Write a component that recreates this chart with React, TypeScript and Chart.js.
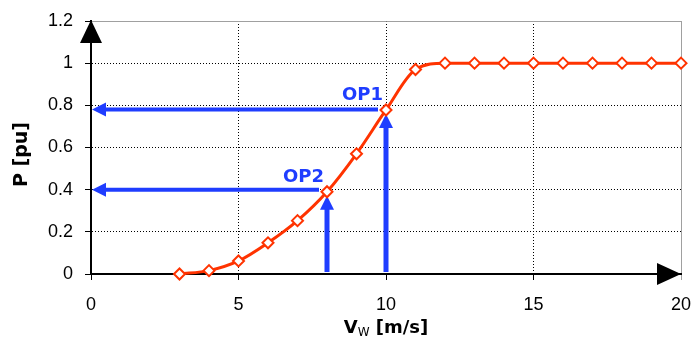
import { useEffect, useRef } from 'react';
import { Chart, registerables } from 'chart.js';

Chart.register(...registerables);

const windSpeeds = [3, 4, 5, 6, 7, 8, 9, 10, 11, 12, 13, 14, 15, 16, 17, 18, 19, 20];
const powerPu = [0, 0.016, 0.062, 0.148, 0.253, 0.39, 0.57, 0.778, 0.97, 1, 1, 1, 1, 1, 1, 1, 1, 1];
const xTickLabels = ['0', '5', '10', '15', '20'];
const yTickLabels = ['0', '0.2', '0.4', '0.6', '0.8', '1', '1.2'];
const opNames = ['OP1', 'OP2'];
const opWind = [10, 8];
const opPower = [0.78, 0.4];
const yTitle = 'P [pu]';
const xTitleMain = 'V';
const xTitleSub = 'W';
const xTitleUnit = ' [m/s]';

const RED = '#ff3300';
const BLUE = '#1f3dff';

const overlay = {
  id: 'overlay',
  beforeDatasetsDraw(chart: any) {
    const { ctx, scales } = chart;
    const xs = scales.x;
    const ys = scales.y;
    ctx.save();
    ctx.strokeStyle = BLUE;
    ctx.fillStyle = BLUE;
    opWind.forEach((w, i) => {
      const idx = windSpeeds.indexOf(w);
      const px = xs.getPixelForValue(w);
      const py = ys.getPixelForValue(powerPu[idx]);
      const hy = ys.getPixelForValue(opPower[i]);
      const x0 = xs.getPixelForValue(0) + 1;
      // horizontal arrow
      ctx.lineWidth = 4;
      ctx.beginPath();
      ctx.moveTo(px - 8, hy);
      ctx.lineTo(x0 + 12, hy);
      ctx.stroke();
      ctx.beginPath();
      ctx.moveTo(x0, hy);
      ctx.lineTo(x0 + 14, hy - 7);
      ctx.lineTo(x0 + 14, hy + 7);
      ctx.closePath();
      ctx.fill();
      // vertical arrow
      ctx.lineWidth = 5;
      const y0 = ys.getPixelForValue(0) - 2;
      const tip = py + 4;
      ctx.beginPath();
      ctx.moveTo(px, y0);
      ctx.lineTo(px, tip + 12);
      ctx.stroke();
      ctx.beginPath();
      ctx.moveTo(px, tip);
      ctx.lineTo(px - 7, tip + 14);
      ctx.lineTo(px + 7, tip + 14);
      ctx.closePath();
      ctx.fill();
    });
    ctx.restore();
  },
  afterDraw(chart: any) {
    const { ctx, scales } = chart;
    const xs = scales.x;
    const ys = scales.y;
    ctx.save();
    // OP labels
    ctx.fillStyle = BLUE;
    ctx.font = 'bold 18px "DejaVu Sans"';
    ctx.textAlign = 'right';
    ctx.textBaseline = 'alphabetic';
    opWind.forEach((w, i) => {
      const idx = windSpeeds.indexOf(w);
      const px = xs.getPixelForValue(w);
      const py = ys.getPixelForValue(powerPu[idx]);
      ctx.fillText(opNames[i], px - 3, py - 10);
    });
    // axis arrows
    ctx.fillStyle = '#000';
    const ax = xs.getPixelForValue(0);
    const ay = ys.getPixelForValue(0);
    const top = ys.getPixelForValue(1.2) - 1;
    ctx.beginPath();
    ctx.moveTo(ax, top);
    ctx.lineTo(ax - 11, top + 23);
    ctx.lineTo(ax + 11, top + 23);
    ctx.closePath();
    ctx.fill();
    const right = xs.getPixelForValue(20);
    ctx.beginPath();
    ctx.moveTo(right, ay);
    ctx.lineTo(right - 24, ay - 11);
    ctx.lineTo(right - 24, ay + 11);
    ctx.closePath();
    ctx.fill();
    // y title
    ctx.save();
    ctx.translate(22, (chart.chartArea.top + chart.chartArea.bottom) / 2 + 7);
    ctx.rotate(-Math.PI / 2);
    ctx.font = 'bold 19px "DejaVu Sans"';
    ctx.textAlign = 'center';
    ctx.textBaseline = 'middle';
    ctx.fillText(yTitle, 0, 0);
    ctx.restore();
    // x title with subscript
    const mainFont = 'bold 18px "DejaVu Sans"';
    const subFont = '12px "DejaVu Sans"';
    ctx.font = mainFont;
    const w1 = ctx.measureText(xTitleMain).width;
    const w3 = ctx.measureText(xTitleUnit).width;
    ctx.font = subFont;
    const w2 = ctx.measureText(xTitleSub).width;
    const total = w1 + w2 + w3;
    const cx = (chart.chartArea.left + chart.chartArea.right) / 2;
    let x = cx - total / 2;
    const base = 333;
    ctx.textAlign = 'left';
    ctx.textBaseline = 'alphabetic';
    ctx.font = mainFont;
    ctx.fillText(xTitleMain, x, base);
    x += w1;
    ctx.font = subFont;
    ctx.fillText(xTitleSub, x, base + 3);
    x += w2;
    ctx.font = mainFont;
    ctx.fillText(xTitleUnit, x, base);
    ctx.restore();
  },
};

export default function App() {
  const ref = useRef<HTMLCanvasElement>(null);
  useEffect(() => {
    if (!ref.current) return;
    const chart = new Chart(ref.current, {
      type: 'line',
      data: {
        datasets: [
          {
            data: windSpeeds.map((w, i) => ({ x: w, y: powerPu[i] })),
            borderColor: RED,
            borderWidth: 3,
            backgroundColor: '#ffffff',
            pointStyle: 'rectRot',
            pointRadius: 5.5,
            pointBorderWidth: 2,
            pointBorderColor: RED,
            pointBackgroundColor: '#ffffff',
            cubicInterpolationMode: 'monotone',
            fill: false,
            clip: false,
          },
        ],
      },
      plugins: [overlay],
      options: {
        animation: false,
        responsive: false,
        maintainAspectRatio: false,
        layout: { padding: { left: 0, right: 11, top: 21, bottom: 0 } },
        plugins: { legend: { display: false }, tooltip: { enabled: false }, title: { display: false } },
        scales: {
          x: {
            type: 'linear',
            min: 0,
            max: 20,
            afterFit: (s: any) => {
              s.height = 65;
              s.paddingLeft = 0;
              s.paddingRight = 0;
            },
            ticks: {
              stepSize: 5,
              color: '#000',
              padding: 14,
              maxRotation: 0,
              font: { family: '"Liberation Sans"', size: 18 },
              callback: (_v: any, i: number) => xTickLabels[i],
            },
            grid: {
              color: (c: any) => (c.tick && c.tick.value === 20 ? '#a0a0a0' : '#000'),
              lineWidth: 1,
              tickLength: 6,
              tickColor: (c: any) => (c.tick && c.tick.value === 20 ? '#a0a0a0' : '#000'),
              tickWidth: 1,
            },
            border: {
              display: true,
              color: '#000',
              width: 2,
              dash: (c: any) => (c.tick && c.tick.value === 20 ? [] : [1, 2]),
            },
          },
          y: {
            type: 'linear',
            min: 0,
            max: 1.2,
            afterFit: (s: any) => {
              s.width = 91;
              s.paddingTop = 0;
              s.paddingBottom = 0;
            },
            ticks: {
              stepSize: 0.2,
              color: '#000',
              padding: 12,
              font: { family: '"Liberation Sans"', size: 18 },
              callback: (_v: any, i: number) => yTickLabels[i],
            },
            grid: {
              color: (c: any) => (c.tick && Math.abs(c.tick.value - 1.2) < 1e-6 ? '#a0a0a0' : '#000'),
              lineWidth: 1,
              tickLength: 6,
              tickColor: '#000',
              tickWidth: 1,
            },
            border: {
              display: true,
              color: '#000',
              width: 2,
              dash: (c: any) => (c.tick && Math.abs(c.tick.value - 1.2) < 1e-6 ? [] : [1, 2]),
            },
          },
        },
      },
    } as any);
    return () => chart.destroy();
  }, []);
  return (
    <div style={{ position: 'fixed', left: 0, top: 0, width: 692, height: 339, background: '#fff' }}>
      <canvas ref={ref} width={692} height={339} style={{ display: 'block' }} />
    </div>
  );
}
